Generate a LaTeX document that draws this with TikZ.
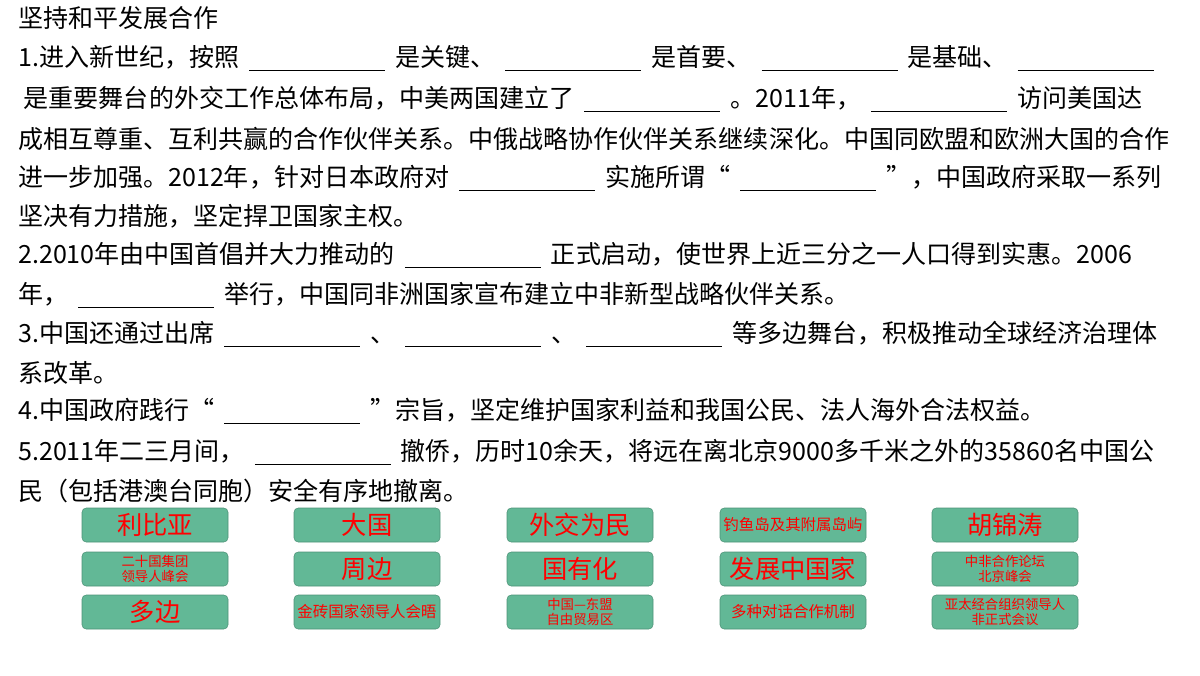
\documentclass[tikz,border=0pt]{standalone}
\usepackage{fontspec}
\setmainfont{Noto Sans CJK SC}
\usetikzlibrary{positioning}
\definecolor{btngreen}{RGB}{98,184,150}
\newcommand{\blank}{\hspace{0.4em}\rule[-3pt]{3.4cm}{0.6pt}\hspace{0.4em}}
\begin{document}
\begin{tikzpicture}[%
			line/.style={anchor=west, inner sep=0pt, font=\fontsize{17.8pt}{19pt}\selectfont},
			btn/.style={draw=btngreen!80!black, fill=btngreen, rounded corners=3pt, minimum width=3.65cm, minimum height=0.85cm, inner sep=1pt, text=red, align=center, font=\fontsize{18pt}{20pt}\selectfont},
			small/.style={font=\fontsize{9.5pt}{11pt}\selectfont},
			mid/.style={font=\fontsize{11pt}{13pt}\selectfont}]
			\useasboundingbox (0,0) rectangle (30,-16.875);
			\node[line] (l1) at (0.45,-0.45) {坚持和平发展合作};
			\node[line] (l2) at (0.45,-1.45) {1.进入新世纪，按照\blank 是关键、\blank 是首要、\blank 是基础、\blank};
			\node[line] (l3) at (0.45,-2.475) {\ 是重要舞台的外交工作总体布局，中美两国建立了\blank 。2011年，\blank 访问美国达};
			\node[line] (l4) at (0.45,-3.475) {成相互尊重、互利共赢的合作伙伴关系。中俄战略协作伙伴关系继续深化。中国同欧盟和欧洲大国的合作};
			\node[line] (l5) at (0.45,-4.45) {进一步加强。2012年，针对日本政府对\blank 实施所谓“\blank ”，中国政府采取一系列};
			\node[line] (l6) at (0.45,-5.4) {坚决有力措施，坚定捍卫国家主权。};
			\node[line] (l7) at (0.45,-6.375) {2.2010年由中国首倡并大力推动的\blank 正式启动，使世界上近三分之一人口得到实惠。2006};
			\node[line] (l8) at (0.45,-7.375) {年，\blank 举行，中国同非洲国家宣布建立中非新型战略伙伴关系。};
			\node[line] (l9) at (0.45,-8.35) {3.中国还通过出席\blank 、\blank 、\blank 等多边舞台，积极推动全球经济治理体};
			\node[line] (l10) at (0.45,-9.325) {系改革。};
			\node[line] (l11) at (0.45,-10.275) {4.中国政府践行“\blank ”宗旨，坚定维护国家利益和我国公民、法人海外合法权益。};
			\node[line] (l12) at (0.45,-11.3) {5.2011年二三月间，\blank 撤侨，历时10余天，将远在离北京9000多千米之外的35860名中国公};
			\node[line] (l13) at (0.45,-12.275) {民（包括港澳台同胞）安全有序地撤离。};
			% answer buttons
			\node[btn] (libya) at (3.875,-13.125) {利比亚};
			\node[btn] (daguo) at (9.175,-13.125) {大国};
			\node[btn] (waijiao) at (14.5,-13.125) {外交为民};
			\node[btn, mid] (diaoyu) at (19.825,-13.125) {钓鱼岛及其附属岛屿};
			\node[btn] (hu) at (25.125,-13.125) {胡锦涛};
			\node[btn, small] (g20) at (3.875,-14.225) {二十国集团\\领导人峰会};
			\node[btn] (zhoubian) at (9.175,-14.225) {周边};
			\node[btn] (guoyou) at (14.5,-14.225) {国有化};
			\node[btn] (fazhan) at (19.825,-14.225) {发展中国家};
			\node[btn, small] (zhongfei) at (25.125,-14.225) {中非合作论坛\\北京峰会};
			\node[btn] (duobian) at (3.875,-15.3) {多边};
			\node[btn, mid] (brics) at (9.175,-15.3) {金砖国家领导人会晤};
			\node[btn, small] (asean) at (14.5,-15.3) {中国—东盟\\自由贸易区};
			\node[btn, mid] (duozhong) at (19.825,-15.3) {多种对话合作机制};
			\node[btn, small] (apec) at (25.125,-15.3) {亚太经合组织领导人\\非正式会议};
\end{tikzpicture}
\end{document}
